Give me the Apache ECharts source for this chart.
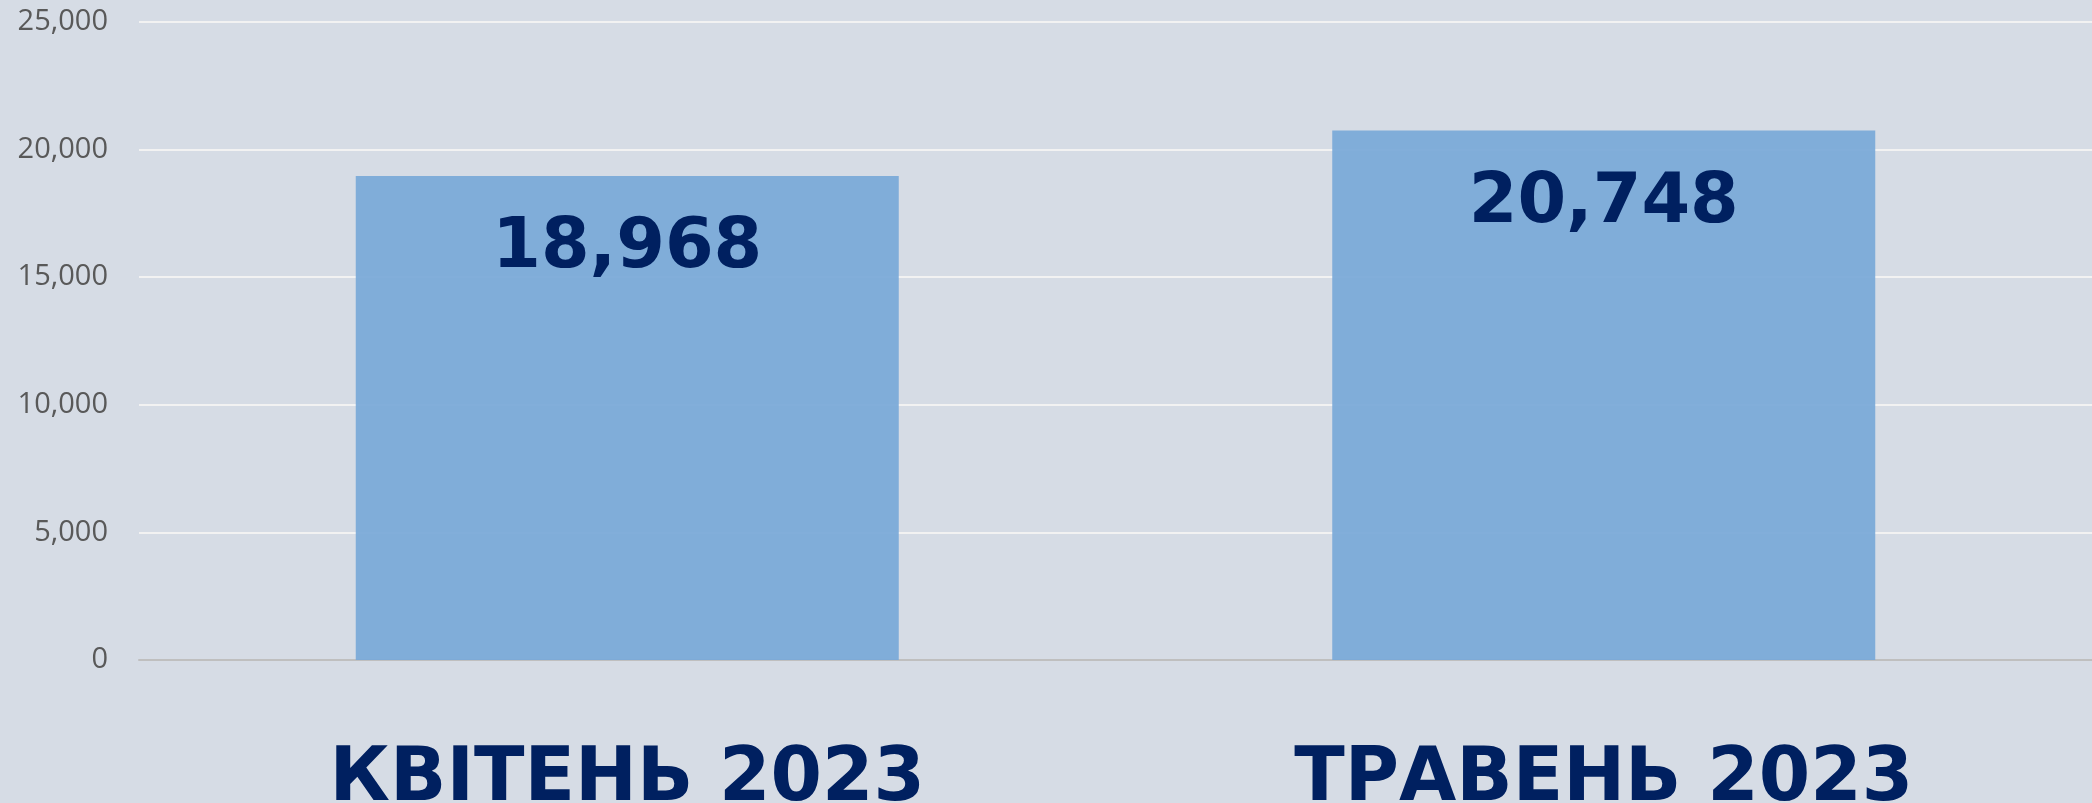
<!DOCTYPE html>
<html>
<head>
<meta charset="utf-8">
<script src="https://cdn.jsdelivr.net/npm/echarts@6/dist/echarts.min.js"></script>
<style>
    html, body { margin: 0; padding: 0; background: #d6dce5; }
    #chart { width: 2092px; height: 803px; }
</style>
</head>
<body>
<div id="chart"></div>
<script>
let months = ['КВІТЕНЬ 2023', 'ТРАВЕНЬ 2023'];
let counts = [18968, 20748];
let yTicks = [0, 5000, 10000, 15000, 20000, 25000];

let chart = echarts.init(document.getElementById('chart'));

function fmt(v) {
    return String(v).replace(/\B(?=(\d{3})+(?!\d))/g, ',');
}

let option = {
    backgroundColor: '#d6dce5',
    animation: false,
    grid: {
        left: 139,
        right: 0,
        top: 22,
        bottom: 143,
        containLabel: false,
        outerBoundsMode: 'none'
    },
    xAxis: {
        type: 'category',
        data: months,
        axisLine: {
            lineStyle: {color: '#bfbfbf', width: 2}
        },
        axisTick: {show: false},
        axisLabel: {
            margin: 84,
            fontFamily: 'DejaVu Sans',
            fontWeight: 'bold',
            fontSize: 74,
            lineHeight: 74,
            color: '#002060'
        }
    },
    yAxis: {
        type: 'value',
        min: yTicks[0],
        max: yTicks[yTicks.length - 1],
        interval: 5000,
        axisLine: {show: false},
        axisTick: {show: false},
        splitLine: {
            lineStyle: {color: '#f2f2f2', width: 2}
        },
        axisLabel: {
            margin: 31,
            fontFamily: 'Open Sans',
            fontSize: 29,
            color: '#595959',
            formatter: function (v) { return fmt(v); }
        }
    },
    series: [
        {
            type: 'bar',
            data: counts,
            barWidth: 543,
            itemStyle: {
                color: 'rgba(120, 168, 216, 0.92)'
            },
            label: {
                show: true,
                position: 'insideTop',
                distance: 38,
                fontFamily: 'DejaVu Sans',
                fontWeight: 'bold',
                fontSize: 70,
                lineHeight: 70,
                color: '#002060',
                formatter: function (p) { return fmt(p.value); }
            }
        }
    ]
};

chart.setOption(option);
</script>
</body>
</html>
